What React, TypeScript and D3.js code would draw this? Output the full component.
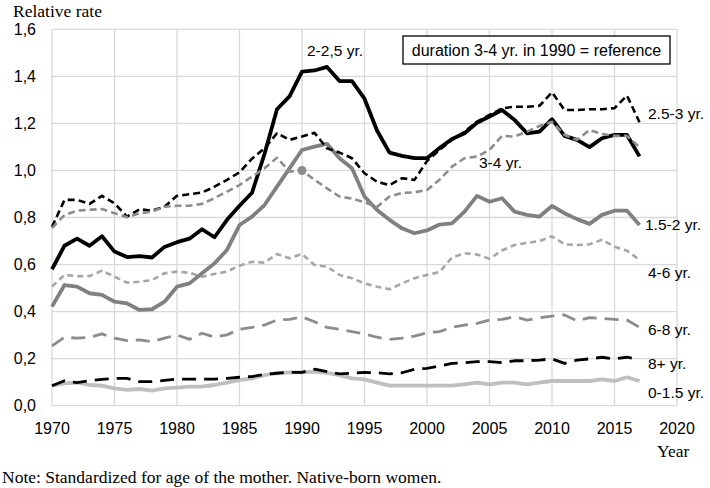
import React, { useRef, useEffect } from 'react';
import * as d3 from 'd3';

const years = d3.range(1970, 2018);

const dur0to15 = [
  0.085, 0.095, 0.098, 0.088, 0.085, 0.074, 0.067, 0.071, 0.064, 0.074,
  0.077, 0.081, 0.081, 0.088, 0.098, 0.109, 0.116, 0.13, 0.138, 0.142,
  0.142, 0.145, 0.14, 0.13, 0.116, 0.112, 0.098, 0.085, 0.085, 0.085,
  0.085, 0.085, 0.085, 0.091, 0.098, 0.091, 0.098, 0.098, 0.091, 0.098,
  0.105, 0.105, 0.105, 0.105, 0.112, 0.105, 0.121, 0.105,
];
const dur15to2 = [
  0.421, 0.513, 0.506, 0.478, 0.471, 0.442, 0.435, 0.407, 0.41, 0.442,
  0.506, 0.52, 0.563, 0.605, 0.662, 0.768, 0.804, 0.853, 0.931, 1.009,
  1.087, 1.101, 1.113, 1.052, 1.009, 0.889, 0.832, 0.79, 0.754, 0.733,
  0.745, 0.77, 0.775, 0.825, 0.892, 0.867, 0.882, 0.825, 0.811, 0.804,
  0.849, 0.818, 0.793, 0.773, 0.811, 0.829, 0.829, 0.768,
];
const dur2to25 = [
  0.58, 0.68, 0.71, 0.68, 0.72, 0.655, 0.632, 0.636, 0.63, 0.675,
  0.695, 0.71, 0.75, 0.716, 0.79, 0.85, 0.905, 1.07, 1.26, 1.315,
  1.42, 1.425, 1.44, 1.38, 1.38, 1.305, 1.17, 1.076, 1.062, 1.052,
  1.052, 1.095, 1.134, 1.158, 1.203, 1.229, 1.257, 1.215, 1.158, 1.165,
  1.218, 1.147, 1.13, 1.099, 1.137, 1.151, 1.151, 1.06,
];
const dur25to3 = [
  0.76, 0.875, 0.875, 0.858, 0.892, 0.86, 0.804, 0.835, 0.829, 0.846,
  0.892, 0.899, 0.906, 0.931, 0.96, 0.992, 1.05, 1.094, 1.158, 1.13,
  1.144, 1.16, 1.094, 1.076, 1.052, 0.988, 0.952, 0.938, 0.967, 0.96,
  1.04, 1.087, 1.13, 1.165, 1.207, 1.236, 1.264, 1.271, 1.271, 1.275,
  1.332, 1.257, 1.257, 1.26, 1.26, 1.265, 1.318, 1.205,
];
const dur3to4 = [
  0.755, 0.811, 0.829, 0.833, 0.836, 0.818, 0.801, 0.818, 0.825, 0.846,
  0.85, 0.85, 0.858, 0.882, 0.91, 0.938, 0.974, 1.009, 1.054, 0.995,
  1.0, 0.96, 0.924, 0.889, 0.88, 0.865, 0.845, 0.889, 0.905, 0.907,
  0.917, 0.96, 1.016, 1.052, 1.059, 1.087, 1.147, 1.144, 1.165, 1.189,
  1.207, 1.151, 1.13, 1.172, 1.155, 1.147, 1.147, 1.099,
];
const dur4to6 = [
  0.506, 0.556, 0.551, 0.551, 0.574, 0.548, 0.523, 0.527, 0.534, 0.563,
  0.57, 0.565, 0.548, 0.56, 0.57, 0.595, 0.612, 0.608, 0.645, 0.627,
  0.645, 0.598, 0.591, 0.556, 0.542, 0.52, 0.506, 0.495, 0.52, 0.542,
  0.556, 0.568, 0.63, 0.648, 0.643, 0.625, 0.66, 0.683, 0.692, 0.7,
  0.72, 0.686, 0.683, 0.686, 0.705, 0.676, 0.659, 0.62,
];
const dur6to8 = [
  0.254, 0.291, 0.287, 0.29, 0.305, 0.287, 0.277, 0.28, 0.272, 0.287,
  0.301, 0.282, 0.308, 0.291, 0.301, 0.325, 0.333, 0.343, 0.364, 0.367,
  0.378, 0.357, 0.333, 0.325, 0.315, 0.305, 0.291, 0.282, 0.287, 0.296,
  0.31, 0.315, 0.333, 0.343, 0.35, 0.364, 0.367, 0.378, 0.364, 0.374,
  0.381, 0.386, 0.361, 0.374, 0.371, 0.367, 0.364, 0.333,
];
const dur8plus = [
  0.085, 0.106, 0.098, 0.106, 0.112, 0.116, 0.116, 0.102, 0.102, 0.108,
  0.113, 0.113, 0.113, 0.113, 0.116, 0.121, 0.124, 0.133, 0.138, 0.142,
  0.142, 0.155, 0.145, 0.135, 0.138, 0.142, 0.14, 0.135, 0.14, 0.155,
  0.159, 0.169, 0.18, 0.183, 0.187, 0.187, 0.183, 0.191, 0.191, 0.194,
  0.199, 0.18, 0.194, 0.199, 0.206, 0.199, 0.206, 0.197,
];

const xTicks = [1970, 1975, 1980, 1985, 1990, 1995, 2000, 2005, 2010, 2015, 2020];
const yTicks = [0, 0.2, 0.4, 0.6, 0.8, 1.0, 1.2, 1.4, 1.6];

// draw order: light ones first, black on top
const series = [
  { label: '0-1.5 yr.', values: dur0to15, color: '#bfbfbf', width: 3.8, dash: null, lx: 648, ly: 398 },
  { label: '8+ yr.', values: dur8plus, color: '#000', width: 2.8, dash: '14,8', lx: 648, ly: 369 },
  { label: '6-8 yr.', values: dur6to8, color: '#8c8c8c', width: 2.8, dash: '14,8', lx: 648, ly: 335 },
  { label: '4-6 yr.', values: dur4to6, color: '#a6a6a6', width: 2.6, dash: '6,4', lx: 648, ly: 278 },
  { label: '1.5-2 yr.', values: dur15to2, color: '#808080', width: 3.8, dash: null, lx: 645, ly: 230 },
  { label: '2-2,5 yr.', values: dur2to25, color: '#000', width: 3.8, dash: null, lx: 307, ly: 56 },
  { label: '2.5-3 yr.', values: dur25to3, color: '#000', width: 2.6, dash: '7,4', lx: 648, ly: 119 },
  { label: '3-4 yr.', values: dur3to4, color: '#8c8c8c', width: 2.6, dash: '7,4', lx: 479, ly: 168 },
];

const App: React.FC = () => {
  const svgRef = useRef<SVGSVGElement | null>(null);

  useEffect(() => {
    if (!svgRef.current) return;
    const svg = d3.select(svgRef.current);
    svg.selectAll('*').remove();

    const x = d3.scaleLinear().domain([1970, 2020]).range([52, 677]);
    const y = d3.scaleLinear().domain([0, 1.6]).range([405.7, 29.3]);

    // grid
    const grid = svg.append('g').attr('stroke', '#d9d9d9').attr('stroke-width', 1.3);
    grid.selectAll('line.v').data(xTicks).join('line')
      .attr('x1', d => x(d)).attr('x2', d => x(d))
      .attr('y1', y(1.6)).attr('y2', y(0));
    grid.selectAll('line.h').data(yTicks).join('line')
      .attr('x1', x(1970)).attr('x2', x(2020))
      .attr('y1', d => y(d)).attr('y2', d => y(d));

    const sans = 'Liberation Sans, Arial, sans-serif';
    const serif = 'Liberation Serif, Times New Roman, serif';

    // axis labels
    svg.append('g').selectAll('text').data(yTicks).join('text')
      .attr('x', 36).attr('y', d => y(d)).attr('dy', '0.35em')
      .attr('text-anchor', 'end').attr('font-family', sans).attr('font-size', 16)
      .text(d => d3.format('.1f')(d).replace('.', ','));
    svg.append('g').selectAll('text').data(xTicks).join('text')
      .attr('x', d => x(d)).attr('y', 434)
      .attr('text-anchor', 'middle').attr('font-family', sans).attr('font-size', 16)
      .text(d => String(d));

    svg.append('text').attr('x', 13).attr('y', 17)
      .attr('font-family', serif).attr('font-size', 17.5).text('Relative rate');
    svg.append('text').attr('x', 657).attr('y', 457)
      .attr('font-family', serif).attr('font-size', 17.5).text('Year');
    svg.append('text').attr('x', 2).attr('y', 483)
      .attr('font-family', serif).attr('font-size', 17.5)
      .text('Note: Standardized for age of the mother. Native-born women.');

    // lines
    const line = d3.line<number>()
      .x((_, i) => x(years[i]))
      .y(d => y(d));

    series.forEach(s => {
      const p = svg.append('path')
        .datum(s.values)
        .attr('fill', 'none')
        .attr('stroke', s.color)
        .attr('stroke-width', s.width)
        .attr('stroke-linejoin', 'round')
        .attr('d', line);
      if (s.dash) p.attr('stroke-dasharray', s.dash);
      svg.append('text')
        .attr('x', s.lx).attr('y', s.ly)
        .attr('font-family', sans).attr('font-size', 15.5)
        .text(s.label);
    });

    // reference point
    svg.append('circle')
      .attr('cx', x(1990)).attr('cy', y(dur3to4[years.indexOf(1990)]))
      .attr('r', 4.5).attr('fill', '#8c8c8c');

    // reference box
    svg.append('rect')
      .attr('x', 403).attr('y', 36).attr('width', 267).attr('height', 28)
      .attr('fill', '#fff').attr('stroke', '#000').attr('stroke-width', 1.3);
    svg.append('text')
      .attr('x', 536.5).attr('y', 50).attr('dy', '0.35em')
      .attr('text-anchor', 'middle').attr('font-family', sans).attr('font-size', 16)
      .text('duration 3-4 yr. in 1990 = reference');
  }, []);

  return (
    <svg
      ref={svgRef}
      width={710}
      height={488}
      style={{ position: 'absolute', left: 0, top: 0, background: '#fff' }}
    />
  );
};

export default App;
